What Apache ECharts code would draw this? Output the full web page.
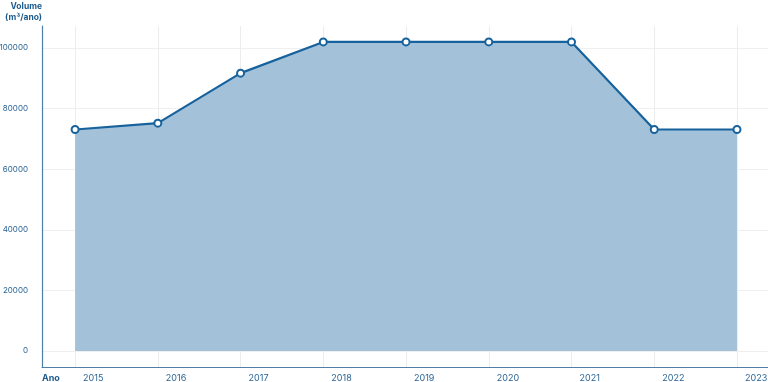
<!DOCTYPE html>
<html>
<head>
<meta charset="utf-8">
<script src="https://cdn.jsdelivr.net/npm/echarts@6/dist/echarts.min.js"></script>
<style>html,body{margin:0;padding:0;background:#fff}#c{width:768px;height:382px}</style>
</head>
<body>
<div id="c"></div>
<script>
const years = [2015, 2016, 2017, 2018, 2019, 2020, 2021, 2022, 2023];
const volumes = [73100, 75200, 91700, 102000, 102000, 102000, 102000, 73100, 73100];
const yTicks = [0, 20000, 40000, 60000, 80000, 100000];
const yAxisTitle = 'Volume\n(m³/ano)';
const xAxisTitle = 'Ano';

const font = 'Inter, "Noto Sans", sans-serif';
const chart = echarts.init(document.getElementById('c'), null, {renderer: 'canvas'});
chart.setOption({
  animation: false,
  grid: {left: 42, right: 0, top: 26, bottom: 15, containLabel: false, outerBoundsMode: 'none'},
  xAxis: {
    type: 'value', min: 2014.6, max: 2023.375,
    axisLine: {show: true, onZero: false, lineStyle: {color: '#4f7fa6', width: 1.2}},
    axisTick: {show: false, customValues: years},
    axisLabel: {customValues: years, formatter: v => String(v), color: '#2a6496', fontFamily: font, fontSize: 9, align: 'left', padding: [0, 0, 0, 8], margin: 7},
    splitLine: {show: true, lineStyle: {color: '#ececec', width: 1}},
    name: xAxisTitle, nameLocation: 'start', nameGap: 0,
    nameTextStyle: {color: '#1d5a8c', fontWeight: 'bold', fontFamily: font, fontSize: 9, align: 'left', verticalAlign: 'top', padding: [7, 0, 0, 0]}
  },
  yAxis: {
    type: 'value', min: -5280, max: 107260,
    axisLine: {show: true, onZero: false, lineStyle: {color: '#4f7fa6', width: 1.2}},
    axisTick: {show: false, customValues: yTicks},
    axisLabel: {customValues: yTicks, formatter: v => String(v), color: '#2a6496', fontFamily: font, fontSize: 8, margin: 14},
    splitLine: {show: true, lineStyle: {color: '#efefef', width: 1}},
    name: yAxisTitle, nameLocation: 'end', nameGap: 3,
    nameTextStyle: {color: '#1d5a8c', fontWeight: 'bold', fontFamily: font, fontSize: 8.5, align: 'right', lineHeight: 11}
  },
  series: [{
    type: 'line',
    data: years.map((y, i) => [y, volumes[i]]),
    symbol: 'circle', symbolSize: 7, showSymbol: true,
    itemStyle: {color: '#ffffff', borderColor: '#17629c', borderWidth: 2},
    lineStyle: {color: '#17629c', width: 2.2},
    areaStyle: {color: '#a3c2da', opacity: 1},
    z: 3
  }]
});
</script>
</body>
</html>
